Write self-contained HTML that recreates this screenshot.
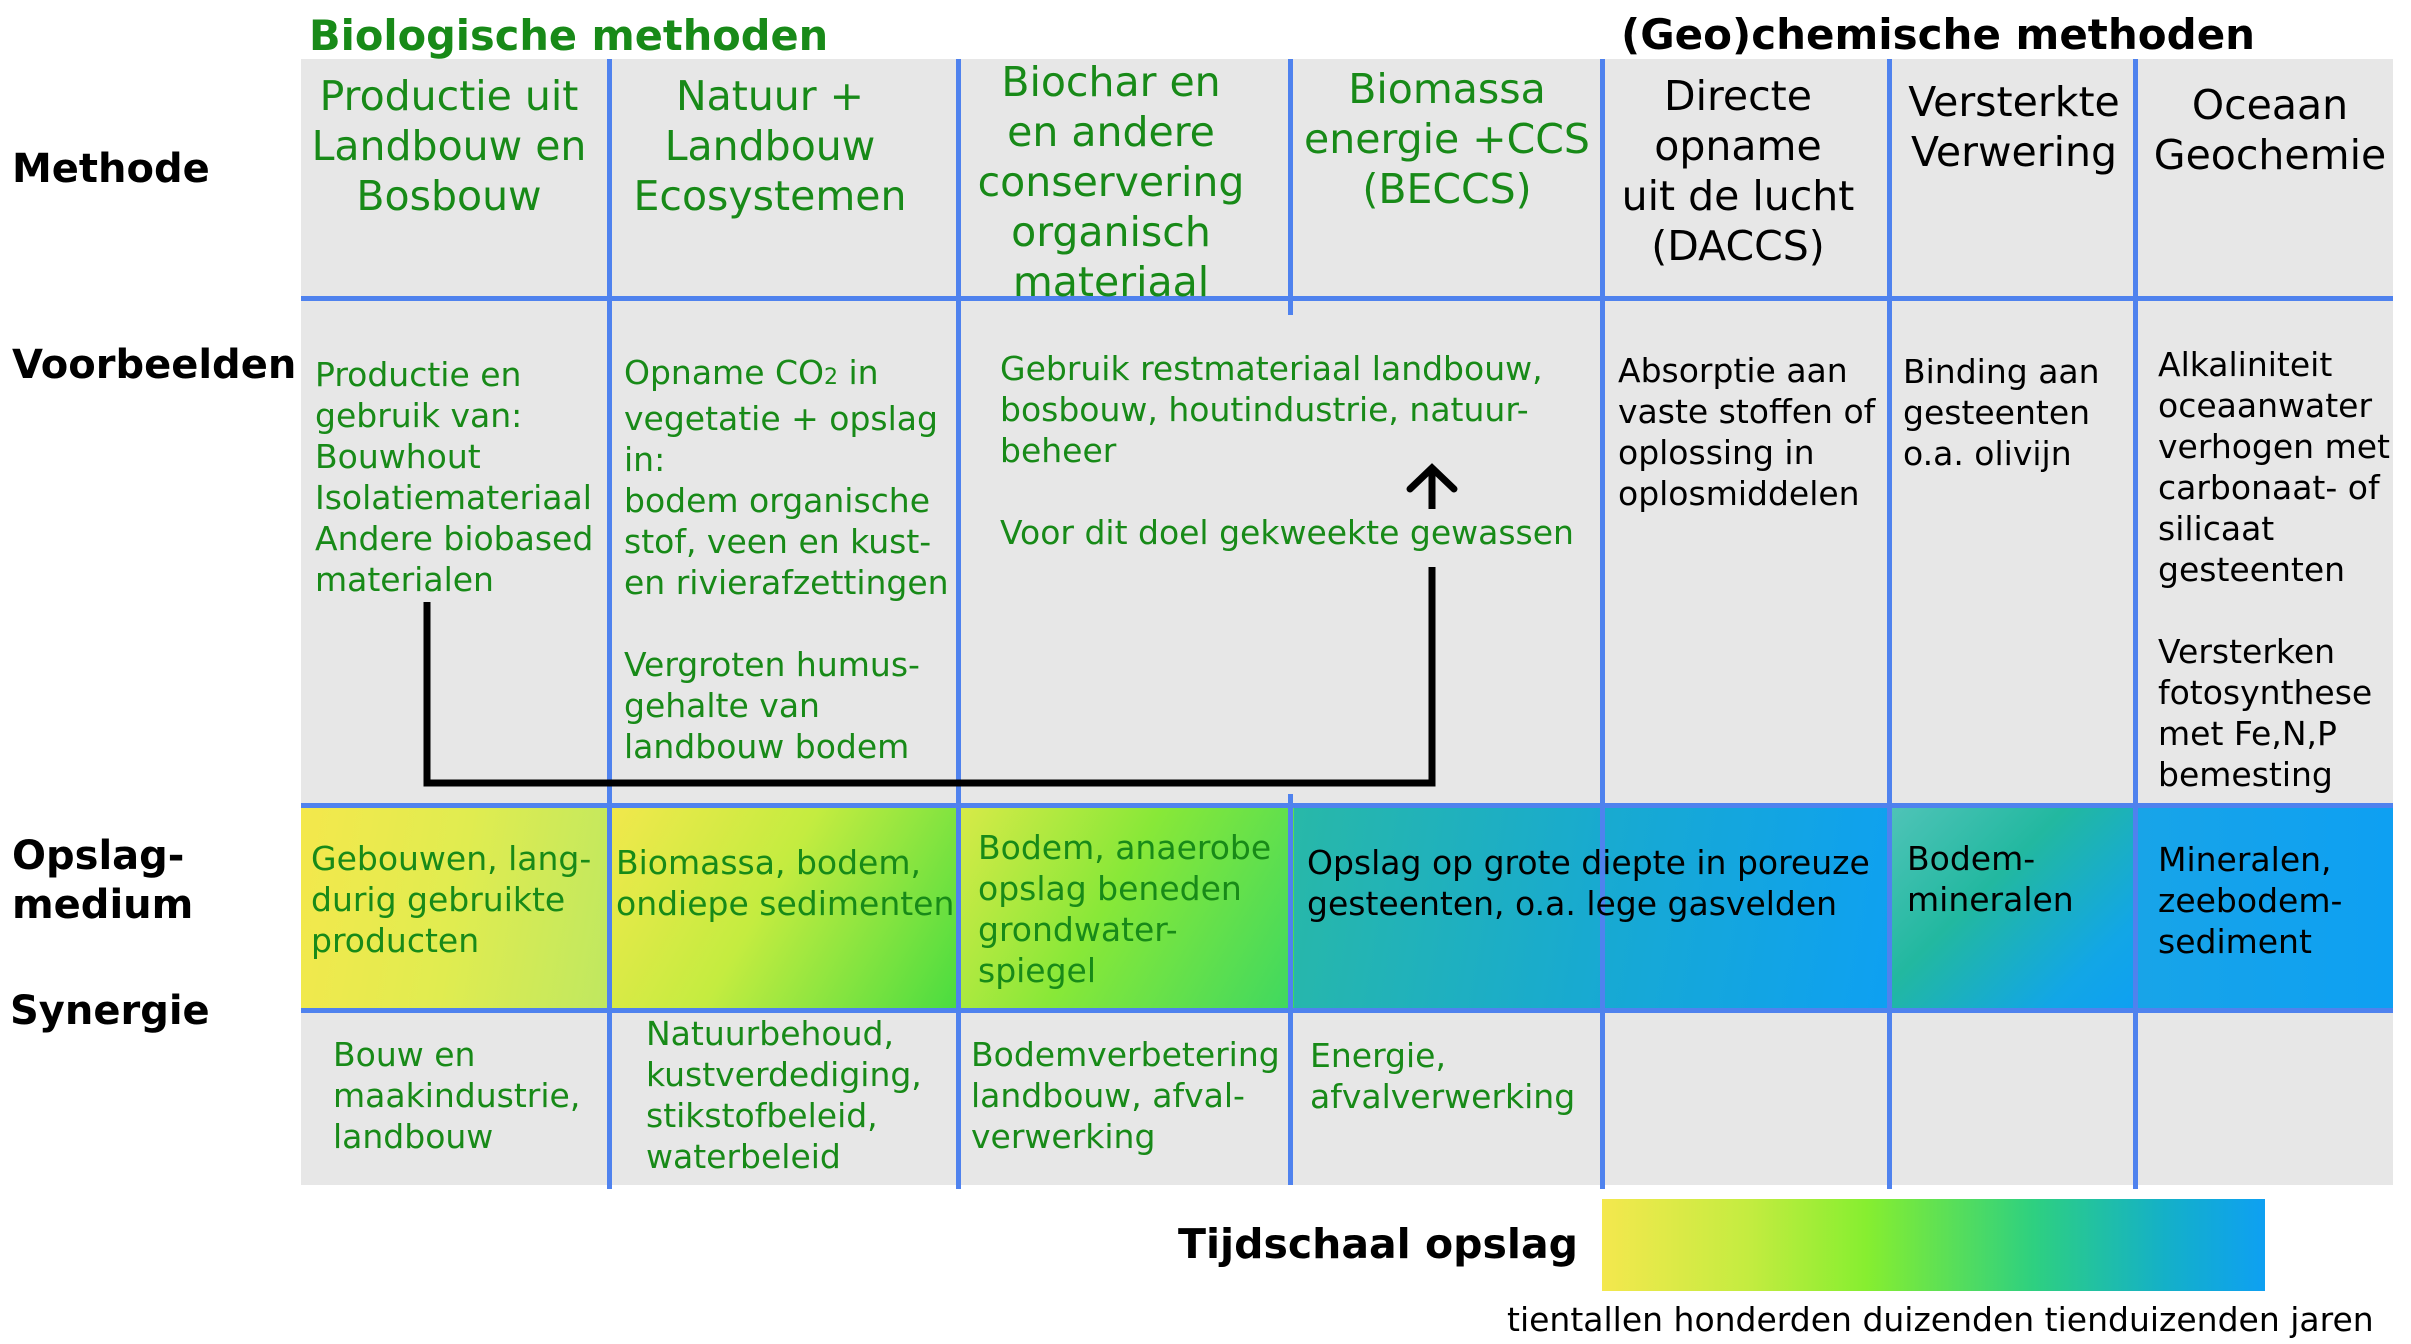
<!DOCTYPE html>
<html><head><meta charset="utf-8"><style>
body{margin:0;width:2411px;height:1344px;background:#fff;position:relative;overflow:hidden;font-family:"DejaVu Sans","Liberation Sans",sans-serif;}
.a{position:absolute;white-space:nowrap;}
.g{color:#188a18;}
.k{color:#000;}
.t{font-size:41px;line-height:50px;text-align:center;}
.b{font-size:33px;line-height:41px;}
.h{font-weight:bold;font-size:40px;}
.vl{position:absolute;width:5px;background:#4f82ee;}
.hl{position:absolute;height:5px;background:#4f82ee;}
</style></head><body>
<div class="a" style="left:301px;top:59px;width:2092px;height:1126px;background:#e7e7e7"></div>
<div class="a" style="left:301px;top:805px;width:308px;height:205px;background:linear-gradient(100deg,#f4e84c 0%,#e0ec50 50%,#bfe860 100%)"></div>
<div class="a" style="left:609px;top:805px;width:350px;height:205px;background:linear-gradient(120deg,#f2e84c 0%,#c4ec40 45%,#48dc40 100%)"></div>
<div class="a" style="left:959px;top:805px;width:335px;height:205px;background:linear-gradient(120deg,#d8ea48 0%,#88e838 45%,#3ed860 100%)"></div>
<div class="a" style="left:1294px;top:805px;width:595px;height:205px;background:linear-gradient(100deg,#28b8a8 0%,#18aad0 50%,#0ea0f2 100%)"></div>
<div class="a" style="left:1889px;top:805px;width:246px;height:205px;background:linear-gradient(135deg,#50c4b8 0%,#22b8a0 40%,#12a6e6 80%,#0ea0f2 100%)"></div>
<div class="a" style="left:2135px;top:805px;width:258px;height:205px;background:linear-gradient(90deg,#18a4e8,#0ea0f2)"></div>
<div class="hl" style="left:301px;top:296px;width:2092px"></div>
<div class="hl" style="left:301px;top:803px;width:2092px"></div>
<div class="hl" style="left:301px;top:1008px;width:2092px"></div>
<div class="vl" style="left:607px;top:59px;height:1130px"></div>
<div class="vl" style="left:956px;top:59px;height:1130px"></div>
<div class="vl" style="left:1288px;top:59px;height:256px"></div>
<div class="vl" style="left:1288px;top:794px;height:391px"></div>
<div class="vl" style="left:1600px;top:59px;height:1130px"></div>
<div class="vl" style="left:1887px;top:59px;height:1130px"></div>
<div class="vl" style="left:2133px;top:59px;height:1130px"></div>
<svg class="a" style="left:0;top:0" width="2411" height="1344">
<polyline points="427,602 427,783 1432,783 1432,567" fill="none" stroke="#000" stroke-width="7"/>
<line x1="1432" y1="470" x2="1432" y2="509" stroke="#000" stroke-width="7"/>
<polyline points="1410,489 1432,468 1454,489" fill="none" stroke="#000" stroke-width="7" stroke-linecap="round"/>
</svg>
<div class="a h g" style="left:309px;top:11px;font-size:41.5px">Biologische methoden</div>
<div class="a h k" style="left:1621px;top:10px;font-size:42px">(Geo)chemische methoden</div>
<div class="a h k" style="left:12px;top:146px">Methode</div>
<div class="a h k" style="left:12px;top:342px">Voorbeelden</div>
<div class="a h k" style="left:12px;top:832px;line-height:49px">Opslag-<br>medium</div>
<div class="a h k" style="left:10px;top:988px">Synergie</div>
<div class="a t g" style="left:299px;width:300px;top:71px">Productie uit<br>Landbouw en<br>Bosbouw</div>
<div class="a t g" style="left:620px;width:300px;top:71px">Natuur +<br>Landbouw<br>Ecosystemen</div>
<div class="a t g" style="left:961px;width:300px;top:57px">Biochar en<br>en andere<br>conservering<br>organisch<br>materiaal</div>
<div class="a t g" style="left:1297px;width:300px;top:64px">Biomassa<br>energie +CCS<br>(BECCS)</div>
<div class="a t k" style="left:1588px;width:300px;top:71px">Directe<br>opname<br>uit de lucht<br>(DACCS)</div>
<div class="a t k" style="left:1864px;width:300px;top:77px">Versterkte<br>Verwering</div>
<div class="a t k" style="left:2120px;width:300px;top:80px">Oceaan<br>Geochemie</div>
<div class="a b g" style="left:315px;top:354px">Productie en<br>gebruik van:<br>Bouwhout<br>Isolatiemateriaal<br>Andere biobased<br>materialen</div>
<div class="a b g" style="left:624px;top:352px">Opname CO<span style="font-size:22px">2</span> in<br>vegetatie + opslag<br>in:<br>bodem organische<br>stof, veen en kust-<br>en rivierafzettingen<br><br>Vergroten humus-<br>gehalte van<br>landbouw bodem</div>
<div class="a b g" style="left:1000px;top:348px">Gebruik restmateriaal landbouw,<br>bosbouw, houtindustrie, natuur-<br>beheer<br><br>Voor dit doel gekweekte gewassen</div>
<div class="a b k" style="left:1618px;top:350px">Absorptie aan<br>vaste stoffen of<br>oplossing in<br>oplosmiddelen</div>
<div class="a b k" style="left:1903px;top:351px">Binding aan<br>gesteenten<br>o.a. olivijn</div>
<div class="a b k" style="left:2158px;top:344px">Alkaliniteit<br>oceaanwater<br>verhogen met<br>carbonaat- of<br>silicaat<br>gesteenten<br><br>Versterken<br>fotosynthese<br>met Fe,N,P<br>bemesting</div>
<div class="a b g" style="left:311px;top:838px">Gebouwen, lang-<br>durig gebruikte<br>producten</div>
<div class="a b g" style="left:616px;top:842px">Biomassa, bodem,<br>ondiepe sedimenten</div>
<div class="a b g" style="left:978px;top:827px">Bodem, anaerobe<br>opslag beneden<br>grondwater-<br>spiegel</div>
<div class="a b k" style="left:1307px;top:842px">Opslag op grote diepte in poreuze<br>gesteenten, o.a. lege gasvelden</div>
<div class="a b k" style="left:1907px;top:838px">Bodem-<br>mineralen</div>
<div class="a b k" style="left:2158px;top:839px">Mineralen,<br>zeebodem-<br>sediment</div>
<div class="a b g" style="left:333px;top:1034px">Bouw en<br>maakindustrie,<br>landbouw</div>
<div class="a b g" style="left:646px;top:1013px">Natuurbehoud,<br>kustverdediging,<br>stikstofbeleid,<br>waterbeleid</div>
<div class="a b g" style="left:971px;top:1034px">Bodemverbetering<br>landbouw, afval-<br>verwerking</div>
<div class="a b g" style="left:1310px;top:1035px">Energie,<br>afvalverwerking</div>
<div class="a" style="left:1602px;top:1199px;width:663px;height:92px;background:linear-gradient(90deg,#f4e84e 0%,#c4ec40 22%,#86ee30 40%,#2ed080 65%,#14b0c8 85%,#0ea0f2 100%)"></div>
<div class="a h k" style="left:1078px;top:1220px;width:500px;text-align:right;font-size:41px">Tijdschaal opslag</div>
<div class="a k" style="left:1507px;top:1300px;font-size:33px">tientallen honderden duizenden tienduizenden jaren</div>
</body></html>
